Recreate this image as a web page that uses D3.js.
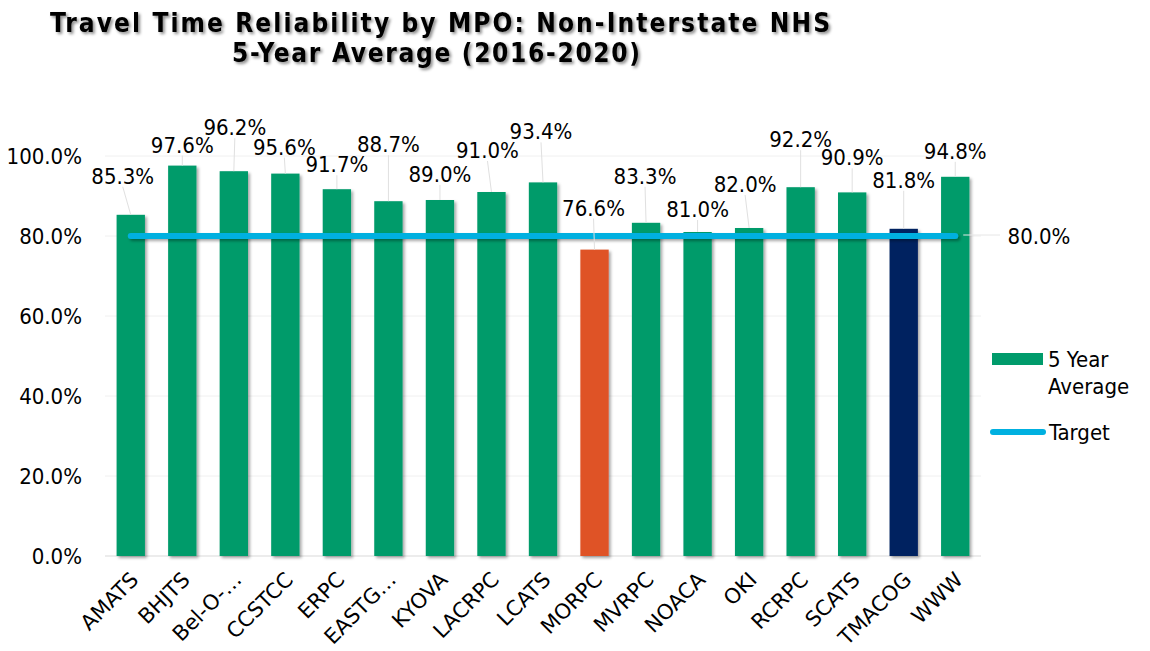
<!DOCTYPE html>
<html>
<head>
<meta charset="utf-8">
<script src="https://cdn.jsdelivr.net/npm/d3@7"></script>
<style>
  body { margin: 0; background: #fff; }
  svg { display: block; font-family: "DejaVu Sans Condensed", "DejaVu Sans", sans-serif; font-stretch: condensed; }
</style>
</head>
<body>
<div id="chart"></div>
<script>
// chart data
const mpos = ['AMATS', 'BHJTS', 'Bel-O-\u2026', 'CCSTCC', 'ERPC', 'EASTG\u2026', 'KYOVA', 'LACRPC', 'LCATS',
  'MORPC', 'MVRPC', 'NOACA', 'OKI', 'RCRPC', 'SCATS', 'TMACOG', 'WWW'];
const fiveYearAvg = [0.853, 0.976, 0.962, 0.956, 0.917, 0.887, 0.890, 0.910, 0.934,
  0.766, 0.833, 0.810, 0.820, 0.922, 0.909, 0.818, 0.948];
const target = 0.80;
const yTicks = [0, 0.2, 0.4, 0.6, 0.8, 1.0];

// label placement (dx, dy from top of bar), as in the original
const labelNudge = [[-8, -39], [0, -21], [1, -44], [-1, -27], [0, -25], [0, -57], [0, -26], [-4, -42], [-2, -51],
  [-1, -42], [-1, -47], [0, -23], [-4, -44], [0, -48], [0, -35], [0, -49], [0, -26]];

const W = 1150, H = 651;
const plot = { left: 105, right: 981, top: 156, bottom: 556 };
const FONT = '"DejaVu Sans Condensed", "DejaVu Sans", sans-serif';
const fmt = d3.format('.1%');

const colorFor = name => name === 'MORPC' ? '#DF5327' : name === 'TMACOG' ? '#002060' : '#009B6B';

const svg = d3.select('#chart').append('svg')
  .attr('width', W)
  .attr('height', H);

const defs = svg.append('defs');
defs.append('filter').attr('id', 'barShadow')
  .attr('x', '-20%').attr('y', '-20%').attr('width', '160%').attr('height', '140%')
  .append('feDropShadow')
  .attr('dx', 2).attr('dy', 2).attr('stdDeviation', 1.6)
  .attr('flood-color', '#000').attr('flood-opacity', 0.35);
// a horizontal line has no height, so this one works in user space
defs.append('filter').attr('id', 'lineShadow')
  .attr('filterUnits', 'userSpaceOnUse')
  .attr('x', 0).attr('y', 0).attr('width', W).attr('height', H)
  .append('feDropShadow')
  .attr('dx', 2).attr('dy', 2).attr('stdDeviation', 1.6)
  .attr('flood-color', '#000').attr('flood-opacity', 0.35);
defs.append('filter').attr('id', 'titleShadow')
  .attr('x', '-10%').attr('y', '-30%').attr('width', '120%').attr('height', '160%')
  .append('feDropShadow')
  .attr('dx', 2).attr('dy', 2).attr('stdDeviation', 1.5)
  .attr('flood-color', '#000').attr('flood-opacity', 0.45);

const x = d3.scaleBand()
  .domain(mpos)
  .range([plot.left, plot.right])
  .paddingInner(0.45)
  .paddingOuter(0.225);

const y = d3.scaleLinear()
  .domain([0, 1])
  .range([plot.bottom, plot.top]);

// Gridlines
svg.append('g')
  .selectAll('line')
  .data(yTicks)
  .join('line')
  .attr('x1', plot.left)
  .attr('x2', plot.right)
  .attr('y1', d => y(d))
  .attr('y2', d => y(d))
  .style('stroke', d => d === 0 ? '#d9d9d9' : '#f0f0f0')
  .style('stroke-width', 1);

// Y axis (labels only)
const yAxis = d3.axisLeft(y)
  .tickValues(yTicks)
  .tickFormat(fmt)
  .tickSize(0)
  .tickPadding(0);

const yg = svg.append('g')
  .attr('transform', 'translate(82,0)')
  .call(yAxis);
yg.select('.domain').remove();
yg.selectAll('text')
  .style('font-family', FONT)
  .style('font-size', '22px')
  .style('fill', '#000');

// X axis (rotated labels)
const xAxis = d3.axisBottom(x).tickSize(0).tickPadding(0);
const xg = svg.append('g')
  .attr('transform', `translate(0,${plot.bottom})`)
  .call(xAxis);
xg.select('.domain').remove();
xg.selectAll('text')
  .attr('text-anchor', 'end')
  .attr('dy', null)
  .attr('y', null)
  .attr('transform', 'translate(9,25) rotate(-45)')
  .style('font-family', '"DejaVu Sans", sans-serif')
  .style('font-stretch', 'normal')
  .style('font-size', '21px')
  .style('fill', '#000');

// Bars
svg.append('g')
  .selectAll('rect')
  .data(mpos)
  .join('rect')
  .attr('x', d => x(d))
  .attr('y', (d, i) => y(fiveYearAvg[i]))
  .attr('width', x.bandwidth())
  .attr('height', (d, i) => y(0) - y(fiveYearAvg[i]))
  .attr('filter', 'url(#barShadow)')
  .style('fill', d => colorFor(d));

// Target line
const firstX = x(mpos[0]) + x.bandwidth() / 2;
const lastX = x(mpos[mpos.length - 1]) + x.bandwidth() / 2;
svg.append('line')
  .attr('x1', firstX)
  .attr('x2', lastX)
  .attr('y1', y(target))
  .attr('y2', y(target))
  .attr('filter', 'url(#lineShadow)')
  .style('stroke', '#00B0E0')
  .style('stroke-width', 6)
  .style('stroke-linecap', 'round');

// Leader + label for target
svg.append('line')
  .attr('x1', lastX + 8)
  .attr('x2', 1000)
  .attr('y1', y(target) - 1)
  .attr('y2', y(target) - 1)
  .style('stroke', '#e6e6e6')
  .style('stroke-width', 1);
svg.append('text')
  .attr('x', 1039)
  .attr('y', y(target))
  .attr('dy', '0.36em')
  .attr('text-anchor', 'middle')
  .style('font-size', '22px')
  .text(fmt(target));

// Data labels with leader lines
const labels = svg.append('g');
mpos.forEach((name, i) => {
  const cx = x(name) + x.bandwidth() / 2;
  const top = y(fiveYearAvg[i]);
  const lx = cx + labelNudge[i][0];
  const ly = top + labelNudge[i][1];
  if (top - (ly + 11) > 4) {
    labels.append('line')
      .attr('x1', lx)
      .attr('y1', ly + 11)
      .attr('x2', cx)
      .attr('y2', top)
      .style('stroke', '#e0e0e0')
      .style('stroke-width', 1);
  }
  labels.append('text')
    .attr('x', lx)
    .attr('y', ly)
    .attr('dy', '0.36em')
    .attr('text-anchor', 'middle')
    .style('font-size', '22px')
    .style('fill', '#000')
    .text(fmt(fiveYearAvg[i]));
});

// Legend
const legend = svg.append('g');
legend.append('rect')
  .attr('x', 992).attr('y', 353)
  .attr('width', 51).attr('height', 12)
  .style('fill', '#009B6B');
legend.append('text')
  .attr('x', 1048).attr('y', 367)
  .style('font-size', '22px')
  .text('5 Year');
legend.append('text')
  .attr('x', 1048).attr('y', 394)
  .style('font-size', '22px')
  .text('Average');
legend.append('line')
  .attr('x1', 993).attr('x2', 1043)
  .attr('y1', 432).attr('y2', 432)
  .style('stroke', '#00B0E0')
  .style('stroke-width', 6)
  .style('stroke-linecap', 'round');
legend.append('text')
  .attr('x', 1049).attr('y', 440)
  .style('font-size', '22px')
  .text('Target');

// Title
const title = svg.append('g').attr('filter', 'url(#titleShadow)');
title.append('text')
  .attr('x', 440).attr('y', 32)
  .attr('text-anchor', 'middle')
  .attr('textLength', 780)
  .attr('lengthAdjust', 'spacing')
  .style('font-size', '26px')
  .style('font-weight', 'bold')
  .text('Travel Time Reliability by MPO: Non-Interstate NHS');
title.append('text')
  .attr('x', 436).attr('y', 62)
  .attr('text-anchor', 'middle')
  .attr('textLength', 408)
  .attr('lengthAdjust', 'spacing')
  .style('font-size', '26px')
  .style('font-weight', 'bold')
  .text('5-Year Average (2016-2020)');
</script>
</body>
</html>
